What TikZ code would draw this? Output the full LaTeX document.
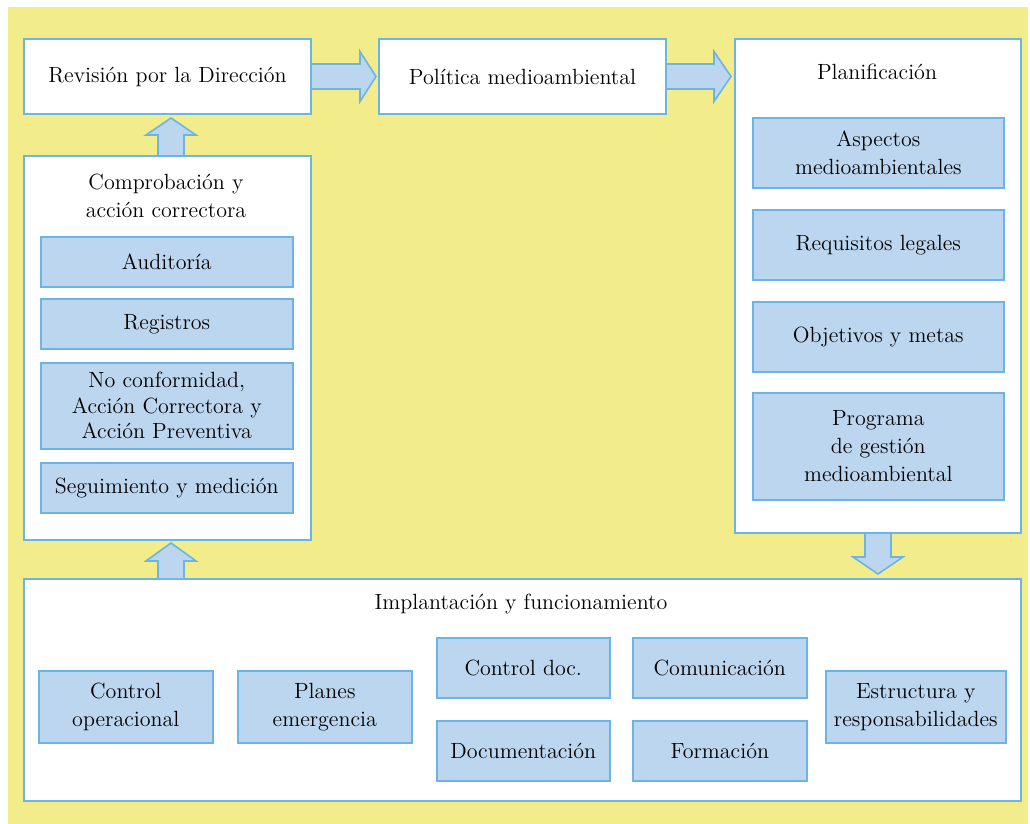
\documentclass[tikz,border=0pt]{standalone}
\usetikzlibrary{positioning,calc}
\definecolor{fondo}{HTML}{F3EC8A}
\definecolor{azul}{HTML}{BBD6EE}
\definecolor{borde}{HTML}{6CB4E4}
\begin{document}
\begin{tikzpicture}[x=0.5pt,y=-0.5pt,
	caja/.style={draw=borde,fill=white,line width=1pt,inner sep=0pt,align=center,font=\fontsize{11}{14}\selectfont},
	sub/.style={draw=borde,fill=azul,line width=0.8pt,inner sep=0pt,align=center,font=\fontsize{11}{14}\selectfont},
	titulo/.style={inner sep=0pt,align=center,font=\fontsize{11}{14}\selectfont},
	flecha/.style={draw=borde,fill=azul,line width=0.8pt,line join=miter}]
	\useasboundingbox (0,0) rectangle (1030,824);
	\fill[fondo] (8,7) rectangle (1028,824);

	% cajas principales
	\node[caja,anchor=north west,minimum width=143.5pt,minimum height=37.5pt]	(revision)	at (23,38)	{Revisión por la Dirección};
	\node[caja,anchor=north west,minimum width=143.5pt,minimum height=37.5pt]	(politica)	at (378,38)	{Política medioambiental};
	\node[caja,anchor=north west,minimum width=143pt,minimum height=247pt]		(planif)	at (734,38)	{};
	\node[caja,anchor=north west,minimum width=143.5pt,minimum height=192pt]	(comprob)	at (23,155)	{};
	\node[caja,anchor=north west,minimum width=498.5pt,minimum height=111pt]	(implant)	at (23,578)	{};

	\node[titulo]	(tplanif)	at (877,72)		{Planificación};
	\node[titulo]	(tcomprob)	at (166,196)	{Comprobación y\\acción correctora};
	\node[titulo]	(timplant)	at (521,604)	{Implantación y funcionamiento};

	% planificacion
	\node[sub,anchor=north west,minimum width=125.5pt,minimum height=35pt]					(aspectos)	at (752,117)	{Aspectos\\medioambientales};
	\node[sub,minimum width=125.5pt,minimum height=35pt,node distance=10.2pt,below=of aspectos]		(requisitos)	{Requisitos legales};
	\node[sub,minimum width=125.5pt,minimum height=35pt,node distance=10.2pt,below=of requisitos]	(objetivos)	{Objetivos y metas};
	\node[sub,minimum width=125.5pt,minimum height=53.5pt,node distance=9.7pt,below=of objetivos]	(programa)	{Programa\\de gestión\\medioambiental};

	% comprobacion
	\node[sub,anchor=north west,minimum width=126pt,minimum height=25pt]					(auditoria)	at (40,236)	{Auditoría};
	\node[sub,minimum width=126pt,minimum height=25pt,node distance=5.2pt,below=of auditoria]	(registros)	{Registros};
	\node[sub,minimum width=126pt,minimum height=43pt,node distance=6.2pt,below=of registros,font=\fontsize{11}{12.75}\selectfont]	(noconf)	{No conformidad,\\Acción Correctora y\\Acción Preventiva};
	\node[sub,minimum width=126pt,minimum height=25pt,node distance=6.2pt,below=of noconf]	(seguim)	{Seguimiento y medición};

	% implantacion
	\node[sub,anchor=north west,minimum width=87pt,minimum height=36pt]					(controlop)	at (38,670)	{Control\\operacional};
	\node[sub,minimum width=87pt,minimum height=36pt,node distance=11.7pt,right=of controlop]	(planes)	{Planes\\emergencia};
	\node[sub,anchor=north west,minimum width=86.5pt,minimum height=30pt]					(controldoc)	at (436,637)	{Control doc.};
	\node[sub,minimum width=86.5pt,minimum height=30pt,node distance=10.7pt,below=of controldoc]	(document)	{Documentación};
	\node[sub,anchor=north west,minimum width=87pt,minimum height=30pt]					(comunic)	at (632,637)	{Comunicación};
	\node[sub,minimum width=87pt,minimum height=30pt,node distance=10.7pt,below=of comunic]	(formacion)	{Formación};
	\node[sub,anchor=north west,minimum width=90pt,minimum height=36pt]					(estructura)	at (825,670)	{Estructura y\\responsabilidades};

	% flechas
	\draw[flecha] ($(revision.east)+(0,-12.5)$) -- ($(politica.west)+(-18,-12.5)$) -- ($(politica.west)+(-18,-25)$) -- ($(politica.west)+(-2,0)$)
		-- ($(politica.west)+(-18,25)$) -- ($(politica.west)+(-18,12.5)$) -- ($(revision.east)+(0,12.5)$);
	\draw[flecha] ($(politica.east)+(0,-12.5)$) -- ($(politica.east -| planif.west)+(-20,-12.5)$) -- ($(politica.east -| planif.west)+(-20,-25)$) -- ($(politica.east -| planif.west)+(-3,0)$)
		-- ($(politica.east -| planif.west)+(-20,25)$) -- ($(politica.east -| planif.west)+(-20,12.5)$) -- ($(politica.east)+(0,12.5)$);
	\draw[flecha] ($(comprob.north)+(-9.5,0)$) -- ($(revision.south)+(-9.5,20)$) -- ($(revision.south)+(-21.5,20)$) -- ($(revision.south)+(3.5,3)$)
		-- ($(revision.south)+(28.5,20)$) -- ($(revision.south)+(16.5,20)$) -- ($(comprob.north)+(16.5,0)$);
	\draw[flecha] ($(comprob.south |- implant.north)+(-9.5,0)$) -- ($(comprob.south)+(-9.5,20)$) -- ($(comprob.south)+(-21.5,20)$) -- ($(comprob.south)+(3.5,2)$)
		-- ($(comprob.south)+(28.5,20)$) -- ($(comprob.south)+(16.5,20)$) -- ($(comprob.south |- implant.north)+(16.5,0)$);
	\draw[flecha] ($(planif.south)+(-13,0)$) -- ($(planif.south |- implant.north)+(-13,-21)$) -- ($(planif.south |- implant.north)+(-25,-21)$) -- ($(planif.south |- implant.north)+(0,-4)$)
		-- ($(planif.south |- implant.north)+(25,-21)$) -- ($(planif.south |- implant.north)+(13,-21)$) -- ($(planif.south)+(13,0)$);
\end{tikzpicture}
\end{document}
